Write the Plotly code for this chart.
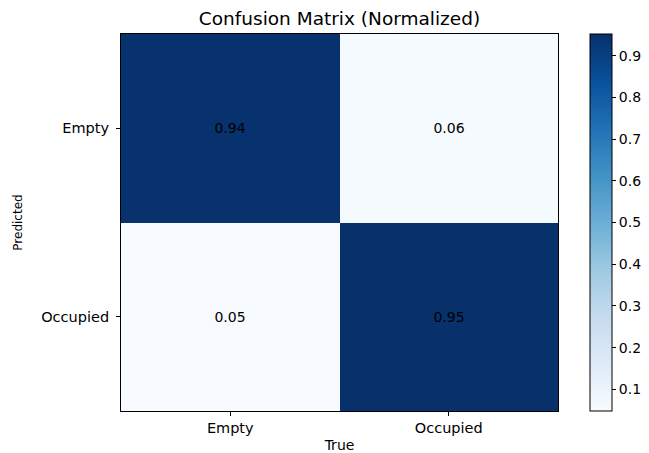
import plotly.graph_objects as go

true_labels = ["Empty", "Occupied"]
pred_labels = ["Empty", "Occupied"]
values = [[0.944, 0.056],
          [0.048, 0.952]]
cbar_ticks = [0.1, 0.2, 0.3, 0.4, 0.5, 0.6, 0.7, 0.8, 0.9]

blues = ["#f7fbff", "#deebf7", "#c6dbef", "#9ecae1", "#6baed6",
         "#4292c6", "#2171b5", "#08519c", "#08306b"]
colorscale = [[i / (len(blues) - 1), c] for i, c in enumerate(blues)]

texts = [[f"{v:.2f}" for v in row] for row in values]

fig = go.Figure(go.Heatmap(
    z=values, x=true_labels, y=pred_labels,
    colorscale=colorscale, zmin=0.048, zmax=0.952,
    text=texts, texttemplate="%{text}",
    textfont=dict(family="DejaVu Sans", size=14, color="black"),
    colorbar=dict(
        x=1.073, xanchor="left", xpad=0, ypad=0,
        thickness=22, len=1, lenmode="fraction", y=0.5, yanchor="middle",
        outlinecolor="black", outlinewidth=1,
        tickvals=cbar_ticks, ticks="outside", ticklen=4, tickcolor="black",
        tickfont=dict(family="DejaVu Sans", size=14, color="black"),
    ),
    hoverinfo="skip",
))

fig.update_layout(
    width=649, height=453,
    margin=dict(l=121, r=91, t=34, b=42, autoexpand=False),
    paper_bgcolor="white", plot_bgcolor="white",
    title=dict(text="Confusion Matrix (Normalized)", x=(121 + 558) / 2 / 649,
               xanchor="center", y=1 - 19 / 453, yanchor="middle",
               font=dict(family="DejaVu Sans", size=18.5, color="black")),
    font=dict(family="DejaVu Sans", color="black"),
)
fig.update_xaxes(
    title=dict(text="True", font=dict(size=14), standoff=7),
    tickfont=dict(size=14.5), ticks="outside", ticklen=4, tickcolor="black",
    showline=True, linecolor="black", linewidth=1, mirror=True, showgrid=False,
    automargin=False,
)
fig.update_yaxes(
    title=dict(text="Predicted", font=dict(size=12), standoff=15),
    tickfont=dict(size=14.5), ticks="outside", ticklen=4, tickcolor="black",
    ticklabelstandoff=4,
    showline=True, linecolor="black", linewidth=1, mirror=True, showgrid=False,
    autorange="reversed", automargin=False,
)

fig.write_html("out.html", config={"displayModeBar": False},
               post_script="document.body.style.margin='0';document.body.style.overflow='hidden';")
